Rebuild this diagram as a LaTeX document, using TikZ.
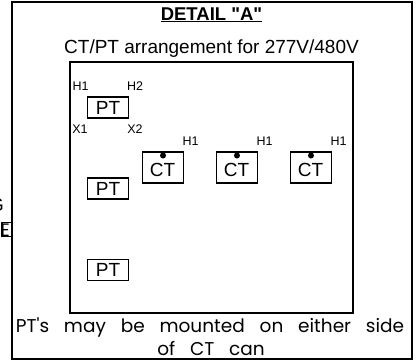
\documentclass[tikz,border=0pt]{standalone}
\usepackage{fontspec}
\setmainfont{Liberation Sans}
\newfontfamily\plainarial{Liberation Sans}
\newfontfamily\gothic[WordSpace=3.0]{Poppins}
\tikzset{
  x=1pt,y=-1pt,
  frame/.style={draw=black,line width=2pt,fill=none},
  unit/.style={draw=black,line width=1.8pt,fill=white,minimum width=41pt,inner sep=0pt,font=\fontsize{19}{21}\selectfont},
  ptbox/.style={unit,minimum height=21pt},
  ctbox/.style={unit,minimum height=31.5pt},
  term/.style={inner sep=0pt,font=\fontsize{12.5}{14}\selectfont},
  dot/.style={circle,fill=black,inner sep=0pt,minimum size=6pt},
  note/.style={inner sep=0pt,font=\gothic\fontsize{18.5}{20}\selectfont},
}
\begin{document}
\begin{tikzpicture}
\useasboundingbox (0,0) rectangle (417,360);
\node[inner sep=0pt,font=\fontsize{19}{21}\selectfont,anchor=east] (frg) at (4,205) {G};
\node[inner sep=0pt,font=\gothic\fontsize{18}{20}\selectfont,anchor=east] (fre) at (10,230) {E};
\draw[line width=1.3pt] (12,222.5) -- (2,222.5) -- (2,236.5) -- (12,236.5);
\fill[white] (12,0) rectangle (411,360);
\draw[frame] (12,1.5) rectangle (411.5,358.5);
\draw[frame] (70,61.5) rectangle (352.5,312.5);
\node[inner sep=0pt,font=\plainarial\bfseries\fontsize{18.5}{20}\selectfont,anchor=base] (title) at (211.5,20) {\underline{DETAIL "A"}};
\node[inner sep=0pt,font=\fontsize{19}{21}\selectfont,anchor=base] (sub) at (211.5,53) {CT/PT arrangement for 277V/480V};
\node[ptbox] (pt1) at (108,107.5) {PT};
\node[ptbox] (pt2) at (108,188.5) {PT};
\node[ptbox] (pt3) at (108,270) {PT};
\node[term] at (80.5,86) {H1};
\node[term] at (135,86) {H2};
\node[term] at (80,129.5) {X1};
\node[term] at (135,129.5) {X2};
\foreach \n/\x in {a/163,b/237,c/311}{
  \node[ctbox] (ct\n) at (\x,167.5) {};
  \node[inner sep=0pt,font=\fontsize{19}{21}\selectfont] (ctl\n) at (\x-0.5,170) {CT};
  \node[dot] (dot\n) at (\x,155.5) {};
  \node[term] (h\n) at (\x+27.5,141.5) {H1};
}
\node[note,anchor=base] (n1) at (210,332) {PT's may be mounted on either side};
\node[note,anchor=base] (n2) at (211,355) {of CT can};
\end{tikzpicture}
\end{document}
